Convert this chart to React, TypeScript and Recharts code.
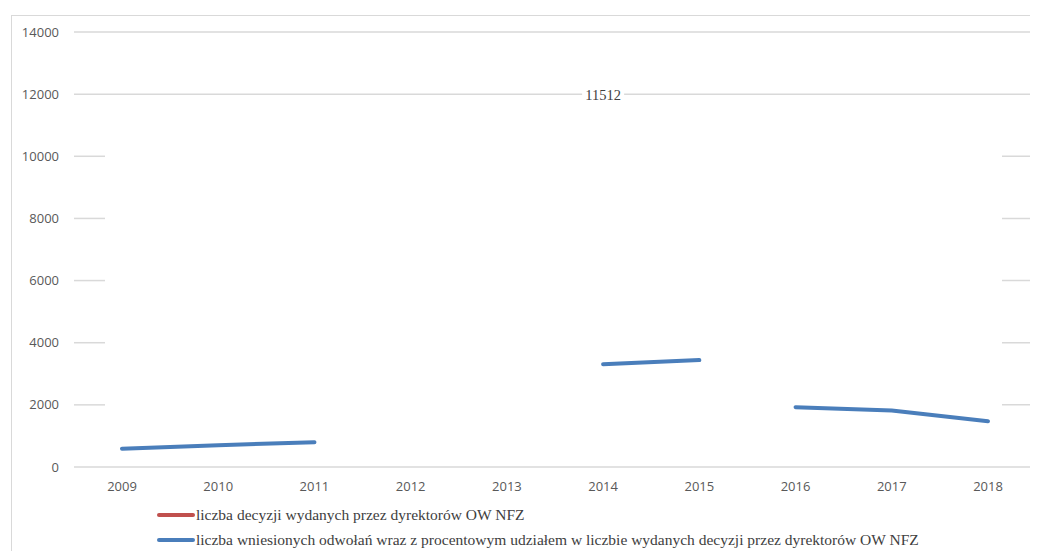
import React from 'react';
import { LineChart, Line, XAxis, YAxis, CartesianGrid, ReferenceLine, LabelList } from 'recharts';

const years = ['2009', '2010', '2011', '2012', '2013', '2014', '2015', '2016', '2017', '2018'];

// liczba decyzji – only the 2014 figure is shown
const decisions: (number | null)[] = [null, null, null, null, null, 11512, null, null, null, null];

// liczba odwołań – broken into two runs (2009–2015, 2016–2018)
const appealsEarly: (number | null)[] = [590, 700, 800, null, null, 3310, 3440, null, null, null];
const appealsLate: (number | null)[] = [null, null, null, null, null, null, null, 1925, 1815, 1475];

const yTicks = [0, 2000, 4000, 6000, 8000, 10000, 12000, 14000];
const fullGridValues = [0, 12000, 14000];
const stubGridValues = [2000, 4000, 6000, 8000, 10000];

const series = [
  { name: 'liczba decyzji wydanych przez dyrektorów OW NFZ', color: '#c0504d' },
  {
    name: 'liczba wniesionych odwołań wraz z procentowym udziałem w liczbie wydanych decyzji przez dyrektorów OW NFZ',
    color: '#4a7ebb',
  },
];

const rows = years.map((year, i) => ({
  year,
  decyzje: decisions[i],
  odwolania: appealsEarly[i],
  odwolania2: appealsLate[i],
}));

const GRID = '#d9d9d9';
const tickStyle = { fontSize: 13, fill: '#595959', fontFamily: '"Open Sans", sans-serif' };

// short grid stubs at both ends of a row
const StubLine = (props: any) => {
  const { x1, x2, y1 } = props;
  return (
    <g>
      <line x1={x1} x2={x1 + 31} y1={y1} y2={y1} stroke={GRID} strokeWidth={1.5} />
      <line x1={x2 - 34} x2={x2} y1={y1} y2={y1} stroke={GRID} strokeWidth={1.5} />
    </g>
  );
};

const ValueLabel = (props: any) => {
  const { x, y, value } = props;
  if (value == null) return null;
  return (
    <g>
      <rect x={x - 21} y={y - 23} width={42} height={17} fill="#fff" />
      <text
        x={x}
        y={y - 9}
        textAnchor="middle"
        fontSize={14.5}
        fill="#404040"
        fontFamily='"Liberation Serif", "Times New Roman", serif'
      >
        {value}
      </text>
    </g>
  );
};

const App = () => {
  return (
    <div style={{ position: 'relative', width: 1030, height: 543 }}>
      <div
        style={{
          position: 'absolute',
          left: 3,
          top: 7,
          right: 0,
          bottom: 0,
          borderTop: `1.5px solid ${GRID}`,
          borderLeft: `1.5px solid ${GRID}`,
        }}
      />
      <LineChart
        width={1030}
        height={543}
        data={rows}
        margin={{ top: 24, right: 2, bottom: 0, left: 0 }}
        style={{ position: 'absolute', left: 0, top: 0 }}
      >
        <CartesianGrid vertical={false} horizontalValues={fullGridValues} stroke={GRID} strokeWidth={1.5} />
        {stubGridValues.map((v) => (
          <ReferenceLine key={v} y={v} shape={StubLine} />
        ))}
        <XAxis
          dataKey="year"
          axisLine={false}
          tickLine={false}
          height={84}
          tickMargin={9}
          padding={{ left: 48, right: 48 }}
          tick={tickStyle}
        />
        <YAxis
          domain={[0, 14000]}
          ticks={yTicks}
          axisLine={false}
          tickLine={false}
          width={66}
          tickMargin={9}
          tick={tickStyle}
        />
        <Line
          dataKey="decyzje"
          name={series[0].name}
          stroke={series[0].color}
          strokeWidth={4}
          dot={false}
          isAnimationActive={false}
        >
          <LabelList dataKey="decyzje" content={ValueLabel} />
        </Line>
        <Line
          dataKey="odwolania"
          name={series[1].name}
          stroke={series[1].color}
          strokeWidth={4}
          strokeLinecap="round"
          dot={false}
          isAnimationActive={false}
        />
        <Line
          dataKey="odwolania2"
          stroke={series[1].color}
          strokeWidth={4}
          strokeLinecap="round"
          dot={false}
          legendType="none"
          isAnimationActive={false}
        />
      </LineChart>
      <div
        style={{
          position: 'absolute',
          left: 149,
          top: 494,
          fontFamily: '"Liberation Serif", "Times New Roman", serif',
          fontSize: 15.5,
          color: '#404040',
        }}
      >
        {series.map((s) => (
          <div key={s.name} style={{ display: 'flex', alignItems: 'center', height: 25 }}>
            <span style={{ display: 'inline-block', width: 38, height: 4, borderRadius: 2, background: s.color, marginRight: 1 }} />
            <span style={{ whiteSpace: 'nowrap' }}>{s.name}</span>
          </div>
        ))}
      </div>
    </div>
  );
};

export default App;
